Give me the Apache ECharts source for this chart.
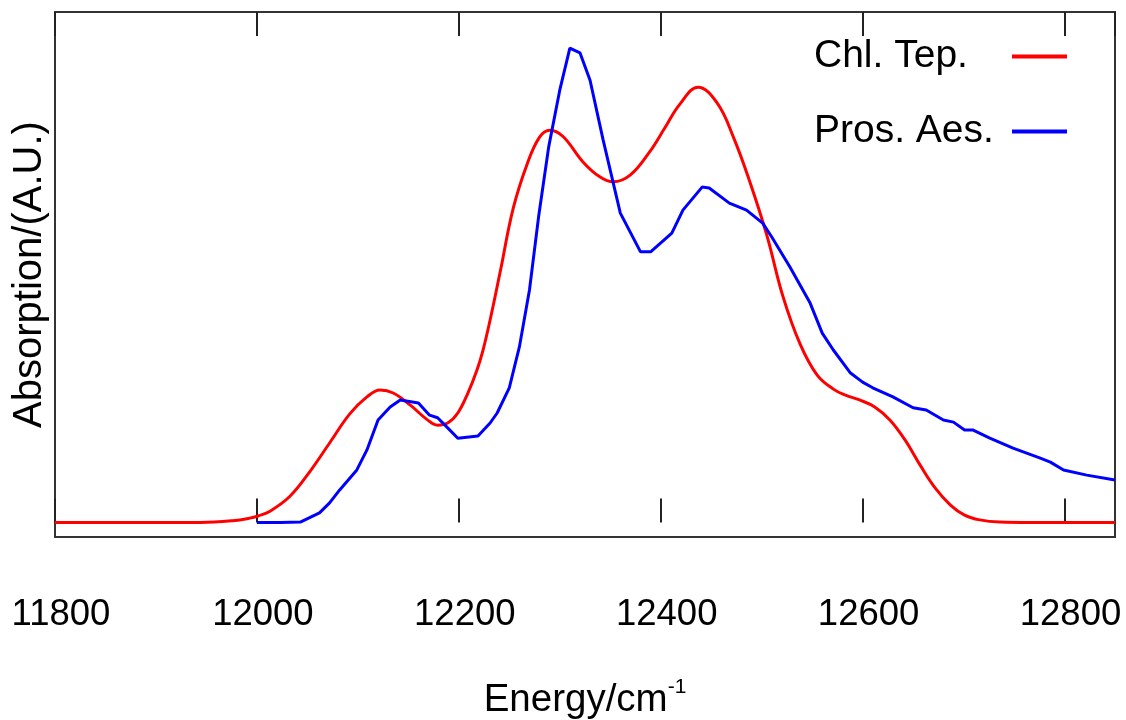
<!DOCTYPE html>
<html>
<head>
<meta charset="utf-8">
<script src="https://cdn.jsdelivr.net/npm/echarts@6/dist/echarts.min.js"></script>
<style>html,body{margin:0;padding:0;background:#fff}#c{width:1126px;height:720px}</style>
</head>
<body>
<div id="c"></div>
<script>
// Chl. Tep. spectrum (energy cm^-1, absorption A.U.)
const chlEnergy = [11800, 11894, 11944, 11976, 11993, 12001, 12013, 12033, 12053, 12072, 12092, 12109, 12122, 12135, 12152, 12168, 12179, 12189, 12199, 12209, 12218, 12224, 12231, 12241, 12254, 12268, 12280, 12290, 12303, 12323, 12340, 12353, 12370, 12389, 12404, 12419, 12437, 12456, 12472, 12488, 12505, 12521, 12538, 12555, 12571, 12583, 12597, 12612, 12627, 12642, 12657, 12672, 12687, 12701, 12716, 12736, 12766, 12850];
const chlAbs = [0, 0, 0, 0.004, 0.010, 0.015, 0.026, 0.061, 0.119, 0.183, 0.250, 0.289, 0.305, 0.298, 0.270, 0.238, 0.224, 0.229, 0.252, 0.298, 0.351, 0.397, 0.466, 0.577, 0.724, 0.827, 0.887, 0.903, 0.889, 0.830, 0.795, 0.784, 0.800, 0.853, 0.908, 0.963, 1.002, 0.965, 0.887, 0.786, 0.662, 0.521, 0.411, 0.339, 0.307, 0.293, 0.282, 0.266, 0.236, 0.190, 0.132, 0.079, 0.040, 0.017, 0.006, 0.001, 0, 0];

// Pros. Aes. spectrum
const prosEnergy = [12000, 12023, 12043, 12062, 12072, 12082, 12099, 12109, 12120, 12132, 12142, 12160, 12171, 12179, 12188, 12199, 12219, 12231, 12238, 12250, 12260, 12270, 12279, 12289, 12300, 12310, 12320, 12330, 12343, 12360, 12380, 12390, 12411, 12422, 12441, 12448, 12468, 12485, 12501, 12510, 12528, 12548, 12560, 12571, 12588, 12600, 12610, 12630, 12650, 12663, 12680, 12690, 12701, 12709, 12726, 12749, 12776, 12786, 12799, 12822, 12850];
const prosAbs = [0, 0, 0.001, 0.022, 0.045, 0.075, 0.121, 0.167, 0.236, 0.266, 0.282, 0.275, 0.247, 0.241, 0.220, 0.194, 0.199, 0.229, 0.252, 0.310, 0.404, 0.535, 0.703, 0.864, 0.995, 1.092, 1.081, 1.018, 0.880, 0.712, 0.623, 0.623, 0.666, 0.719, 0.772, 0.770, 0.735, 0.719, 0.689, 0.657, 0.588, 0.505, 0.436, 0.397, 0.344, 0.323, 0.310, 0.289, 0.264, 0.259, 0.236, 0.231, 0.213, 0.213, 0.194, 0.171, 0.148, 0.139, 0.121, 0.109, 0.098];

const seriesNames = ['Chl. Tep.', 'Pros. Aes.'];
const xTickMin = 11800, xTickMax = 12850, xTickStep = 200;

const FONT = 'Liberation Sans';
const chart = echarts.init(document.getElementById('c'), null, {renderer: 'canvas'});
const zip = (xs, ys) => xs.map((x, i) => [x, ys[i]]);

chart.setOption({
  animation: false,
  backgroundColor: '#fff',
  textStyle: {fontFamily: FONT},
  grid: {left: 55, right: 11, top: 12, bottom: 183, show: true, borderColor: '#333', borderWidth: 2,
    backgroundColor: 'transparent', containLabel: false, outerBoundsMode: 'none'},
  legend: {
    orient: 'vertical', align: 'right', right: 59, top: 37, padding: 0,
    itemWidth: 55, itemHeight: 4, itemGap: 36, icon: 'rect',
    data: seriesNames,
    formatter: '{a|{name}}',
    textStyle: {fontFamily: FONT, fontSize: 39, color: '#000',
      rich: {a: {width: 193, align: 'left', fontSize: 39, lineHeight: 40, fontFamily: FONT, color: '#000'}}}
  },
  xAxis: [{
    type: 'value', min: xTickMin, max: xTickMax, interval: xTickStep, position: 'bottom',
    axisLine: {show: false}, splitLine: {show: false},
    axisTick: {inside: true, length: 24, lineStyle: {color: '#222', width: 2}},
    axisLabel: {margin: 60, fontSize: 36.5, lineHeight: 36, color: '#000', fontFamily: FONT, showMaxLabel: false,
      hideOverlap: false, padding: [0, 0, 0, 12], formatter: v => String(v)},
    name: 'Energy/cm{sup|-1}', nameLocation: 'middle', nameGap: 140,
    nameTextStyle: {fontSize: 38.5, color: '#000', fontFamily: FONT,
      rich: {sup: {fontSize: 21, padding: [0, 0, 26, 0], color: '#000', fontFamily: FONT}}}
  }, {
    type: 'value', min: xTickMin, max: xTickMax, interval: xTickStep, position: 'top',
    axisLine: {show: false}, splitLine: {show: false},
    axisTick: {inside: true, length: 24, lineStyle: {color: '#222', width: 2}},
    axisLabel: {show: false}
  }],
  yAxis: {
    type: 'value', min: -0.0334, max: 1.175,
    axisLine: {show: false}, axisTick: {show: false}, axisLabel: {show: false}, splitLine: {show: false},
    name: 'Absorption/(A.U.)', nameLocation: 'middle', nameGap: 5,
    nameTextStyle: {fontSize: 40, color: '#000', fontFamily: FONT}
  },
  series: [{
    name: seriesNames[0], type: 'line', data: zip(chlEnergy, chlAbs),
    smooth: 0.4, showSymbol: false, color: '#ff0000',
    lineStyle: {width: 3, color: '#ff0000'}
  }, {
    name: seriesNames[1], type: 'line', data: zip(prosEnergy, prosAbs),
    smooth: false, showSymbol: false, color: '#0000ff',
    lineStyle: {width: 3, color: '#0000ff'}
  }]
});
</script>
</body>
</html>
